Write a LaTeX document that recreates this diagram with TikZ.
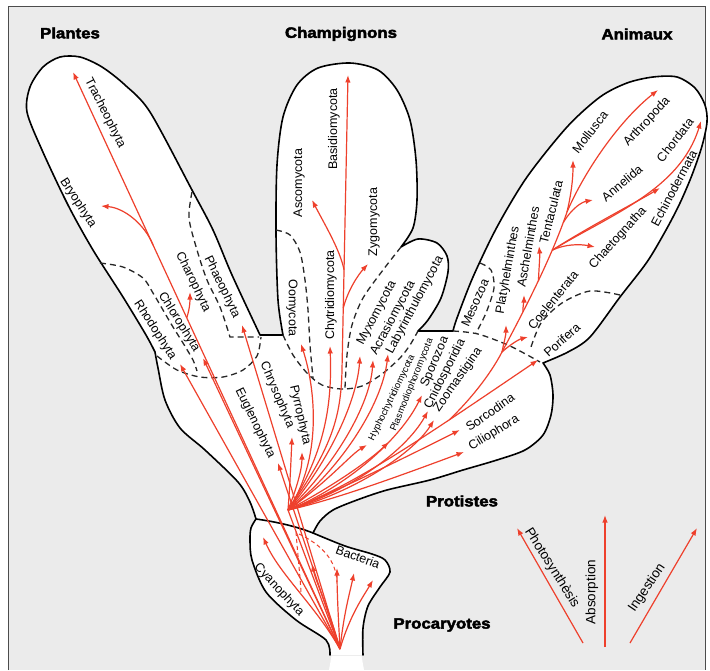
\documentclass[tikz,border=0pt]{standalone}
\usepackage{fontspec}
\setmainfont{Liberation Sans}
\newfontfamily\headfont[FakeStretch=1.12, BoldFeatures={FakeBold=3}]{Liberation Sans}
\usetikzlibrary{arrows.meta,calc}
\definecolor{treered}{RGB}{238,64,44}
\definecolor{paper}{RGB}{235,235,235}
\tikzset{
  lobe/.style={draw=black, line width=1.6pt, line join=round, line cap=round},
  divide/.style={draw=black!85, line width=1.3pt, dash pattern=on 6pt off 4pt},
  br/.style={-{Latex[length=7.5pt,width=5.5pt]}, draw=treered, line width=1.2pt},
  brline/.style={draw=treered, line width=1.2pt},
  brdash/.style={draw=treered, line width=1pt, dash pattern=on 4pt off 3pt},
}

\begin{document}
\begin{tikzpicture}[x=1pt, y=-1pt,
    lab/.style={font=\fontsize{12.5}{14}\selectfont, inner sep=0pt},
    labsm/.style={font=\fontsize{9.5}{11}\selectfont, inner sep=0pt},
    modelab/.style={font=\fontsize{13.5}{15}\selectfont, inner sep=0pt},
    kingdom/.style={font=\headfont\bfseries\fontsize{15}{17}\selectfont, inner sep=0pt}]
  \useasboundingbox (0,0) rectangle (710,670);
  \fill[paper] (8,6) rectangle (705,670);
  \draw[black!70, line width=1pt] (8,670) -- (8,6) -- (705,6) -- (705,670);

  % outline of the kingdoms
  \draw[lobe, fill=white]
    plot[smooth] coordinates {(330,655) (326,640) (296,620) (266,592) (252,560) (250,540) (251,528) (256,519)}
    -- plot[smooth] coordinates {(256,519) (250,502) (238,482) (205,450) (180,428) (165,400) (158,368) (155,352)}
    -- plot[smooth] coordinates {(155,352) (146,335) (123,297) (93,250) (68,205) (42,150) (27,112) (30,87)
         (43,67) (60,57) (80,57) (102,67) (125,85) (150,112) (192,190) (213,230) (232,275) (260,335)}
    -- (283,335)
    -- plot[smooth] coordinates {(283,335) (278,300) (276,233) (277,165) (283,117) (297,85) (318,68) (350,63)
         (378,70) (397,90) (410,120) (416,160) (417,200) (413,228) (401,247)}
    -- plot[smooth] coordinates {(401,247) (418,239) (437,243) (447,256) (448,272) (441,298) (428,320) (418,331)}
    -- (453,331)
    -- plot[smooth] coordinates {(453,331) (457,318) (473,277) (497,227) (527,177) (567,127) (600,97) (627,83)
         (653,77) (677,77) (695,88) (705,105) (707,122) (702,146) (692,175) (680,203) (666,230) (647,262)
         (620,297) (590,337) (568,352) (543,363)}
    -- plot[smooth] coordinates {(543,363) (550,375) (553,395) (551,415) (543,435) (525,450) (497,460) (463,470)
         (430,480) (387,490) (357,500) (333,510) (320,521) (313,533)}
    -- plot[smooth] coordinates {(313,533) (345,546) (372,554) (385,560) (390,572) (380,587) (368,606) (363,628) (363,655)};
  \fill[white] (331.5,656) -- (361.5,656) -- (364,670) -- (329,670) -- cycle;
  \draw[lobe] (256,519) .. controls (278,522) and (298,527) .. (313,533);

  % dashed boundaries
  \draw[divide] plot[smooth] coordinates {(100,263) (123,267) (143,278) (153,293) (163,310) (173,327) (183,343) (193,360) (197,371)};
  \draw[divide] plot[smooth] coordinates {(192,192) (189,218) (197,250) (207,280) (220,307) (230,337)} -- (259,337);
  \draw[divide] plot[smooth] coordinates {(157,356) (177,370) (200,377) (223,377) (243,370) (257,356) (261,337)};
  \draw[divide] plot[smooth] coordinates {(276,230) (290,235) (300,252) (305,280) (308,310) (310,345) (313,378)};
  \draw[divide] plot[smooth] coordinates {(283,335) (293,355) (307,373) (322,385) (342,389) (362,386) (382,374) (400,358) (410,345) (418,331)};
  \draw[divide] plot[smooth] coordinates {(401,247) (383,270) (363,298) (352,325) (347,355) (345,388)};
  \draw[divide] plot[smooth] coordinates {(453,331) (478,334) (510,346) (540,362)};
  \draw[divide] plot[smooth] coordinates {(480,263) (491,270) (494,288) (486,313) (476,333)};
  \draw[divide] plot[smooth] coordinates {(620,295) (590,291) (562,303) (541,323) (530,350)};

  % branch ends
  \coordinate (base) at (340,649);
  \coordinate (euk) at (288,510);
  \coordinate (trach) at (73,72);
  \coordinate (bryo) at (101,206);
  \coordinate (charo) at (190,292);
  \coordinate (rhodo) at (180,364);
  \coordinate (chloro) at (203,358);
  \coordinate (phaeo) at (242,325);
  \coordinate (eugl) at (278,463);
  \coordinate (chryso) at (292,437);
  \coordinate (pyrro) at (302,452);
  \coordinate (oomy) at (301,344);
  \coordinate (chytr) at (330,346);
  \coordinate (fk) at (342,370);
  \coordinate (basid) at (348,75);
  \coordinate (asco) at (312,200);
  \coordinate (zygo) at (368,264);
  \coordinate (myxo) at (360,356);
  \coordinate (acras) at (373,360);
  \coordinate (laby) at (388,354);
  \coordinate (hypho) at (367,445);
  \coordinate (plasm) at (389,442);
  \coordinate (sporo) at (422,395);
  \coordinate (cnido) at (428,411);
  \coordinate (zooma) at (434,420);
  \coordinate (sorco) at (460,430);
  \coordinate (cilio) at (464,452);
  \coordinate (pori) at (538,360);
  \coordinate (ak) at (502,352);
  \coordinate (am) at (567,212);
  \coordinate (platy) at (506,325);
  \coordinate (coele) at (528,337);
  \coordinate (asch) at (524,295);
  \coordinate (tenta) at (539,246);
  \coordinate (mollu) at (573,160);
  \coordinate (annel) at (593,200);
  \coordinate (arthro) at (658,90);
  \coordinate (chaet) at (595,247);
  \coordinate (echino) at (660,188);
  \coordinate (chord) at (701,121);
  \coordinate (cyano) at (263,537);
  \coordinate (bac1) at (312,564);
  \coordinate (bac2) at (337,568);
  \coordinate (bac3) at (354,573);
  \coordinate (bac4) at (373,580);
  \coordinate (pd1) at (296,532);
  \coordinate (pd2) at (301,592);
  \coordinate (pd3) at (299,534);
  \coordinate (pd4) at (337,582);

  % procaryotes
  \draw[br] (base) .. controls (315,605) and (280,575) .. (cyano);
  \draw[br] (base) .. controls (330,612) and (316,582) .. (bac1);
  \draw[br] (base) .. controls (338,612) and (337,590) .. (bac2);
  \draw[br] (base) .. controls (344,612) and (350,592) .. (bac3);
  \draw[br] (base) .. controls (350,615) and (363,597) .. (bac4);
  \draw[brdash] (pd1) .. controls (298,558) and (300,575) .. (pd2);
  \draw[brdash] (pd3) .. controls (322,545) and (336,560) .. (pd4);

  % plants
  \draw[br] (base) -- coordinate[pos=.574] (ck) coordinate[pos=.70] (bk) (trach);
  \draw[br] (bk) .. controls (145,225) and (125,208) .. (bryo);
  \draw[br] (ck) .. controls (190,308) and (190,300) .. (charo);
  \draw[br] (base) -- (rhodo);
  \draw[br] (base) -- (chloro);
  \draw[br] (base) -- (phaeo);
  \draw[br] (base) -- (eugl);
  \draw[brline] (base) -- (euk);

  % protists and fungi
  \draw[br] (euk) .. controls (290,485) and (291,460) .. (chryso);
  \draw[br] (euk) .. controls (296,490) and (302,470) .. (pyrro);
  \draw[br] (euk) .. controls (322,460) and (316,390) .. (oomy);
  \draw[br] (euk) .. controls (327,450) and (332,400) .. (chytr);
  \draw[br] (euk) .. controls (330,450) and (341,420) .. (fk) -- coordinate[pos=.21] (fk1) coordinate[pos=.34] (fk2) (basid);
  \draw[br] (fk2) .. controls (340,250) and (325,225) .. (asco);
  \draw[br] (fk1) .. controls (348,290) and (358,275) .. (zygo);
  \draw[br] (euk) .. controls (330,460) and (357,400) .. (myxo);
  \draw[br] (euk) .. controls (335,465) and (370,405) .. (acras);
  \draw[br] (euk) .. controls (340,470) and (382,405) .. (laby);
  \draw[br] (euk) .. controls (330,480) and (350,455) .. (hypho);
  \draw[br] (euk) .. controls (335,485) and (370,460) .. (plasm);
  \draw[br] (euk) .. controls (345,488) and (400,440) .. (sporo);
  \draw[br] (euk) .. controls (348,492) and (405,452) .. (cnido);
  \draw[br] (euk) .. controls (350,494) and (412,455) .. (zooma);
  \draw[br] (euk) .. controls (330,495) and (410,455) .. (sorco);
  \draw[br] (euk) .. controls (335,500) and (410,472) .. (cilio);

  % animals
  \draw[br] (euk) .. controls (350,488) and (420,440) .. coordinate[pos=.72] (pk) (pori);
  \draw[br] (pk) .. controls (470,400) and (490,375) .. (ak)
    .. controls (520,318) and (550,262) .. coordinate[pos=.33] (ak1) coordinate[pos=.55] (ak2)
       coordinate[pos=.75] (ak3) coordinate[pos=.93] (ak4) (am)
    .. controls (585,170) and (620,120) .. (arthro);
  \draw[br] (ak) .. controls (504,342) and (506,335) .. (platy);
  \draw[br] (ak) .. controls (512,343) and (520,339) .. (coele);
  \draw[br] (ak1) .. controls (523,305) and (524,300) .. (asch);
  \draw[br] (ak2) .. controls (539,268) and (540,256) .. (tenta);
  \draw[br] (ak3) .. controls (565,244) and (580,244) .. (chaet);
  \draw[br] (ak3) .. controls (590,226) and (635,203) .. (echino);
  \draw[br] (ak3) .. controls (610,215) and (680,190) .. (chord);
  \draw[br] (am) .. controls (571,195) and (573,180) .. (mollu);
  \draw[br] (ak4) .. controls (572,208) and (582,202) .. (annel);

  % names
  \node[lab, rotate=-63] (nTrach) at (105,113) {Tracheophyta};
  \node[lab, rotate=-57] (nBryo) at (78,203) {Bryophyta};
  \node[lab, rotate=-64] (nCharo) at (193,282) {Charophyta};
  \node[lab, rotate=-64] (nPhaeo) at (222,287) {Phaeophyta};
  \node[lab, rotate=-58] (nChloro) at (179,322) {Chlorophyta};
  \node[lab, rotate=-57] (nRhodo) at (155,330) {Rhodophyta};
  \node[lab, rotate=-64] (nEugl) at (255,423) {Euglenophyta};
  \node[lab, rotate=-67] (nChryso) at (277,395) {Chrysophyta};
  \node[lab, rotate=-77] (nPyrro) at (300,415) {Pyrrophyta};
  \node[lab, rotate=-90] (nOomy) at (292,308) {Oomycota};
  \node[lab, rotate=90] (nChytr) at (331,295) {Chytridiomycota};
  \node[lab, rotate=90] (nAsco) at (299,183) {Ascomycota};
  \node[lab, rotate=90] (nBasid) at (334,129) {Basidiomycota};
  \node[lab, rotate=90] (nZygo) at (374,222) {Zygomycota};
  \node[lab, rotate=62] (nMyxo) at (377,313) {Myxomycota};
  \node[lab, rotate=62] (nAcras) at (393,318) {Acrasiomycota};
  \node[lab, rotate=62] (nLaby) at (415,305) {Labyrinthulomycota};
  \node[labsm, rotate=64] (nHypho) at (392,398) {Hyphochytridiomycota};
  \node[labsm, rotate=68] (nPlasm) at (412,385) {Plasmodiophoromycota};
  \node[lab, rotate=67] (nSporo) at (435,362) {Sporozoa};
  \node[lab, rotate=63] (nCnido) at (445,374) {Cnidosporidia};
  \node[lab, rotate=55] (nZooma) at (458,380) {Zoomastigina};
  \node[lab, rotate=35] (nSorco) at (490,412) {Sorcodina};
  \node[lab, rotate=31] (nCilio) at (494,433) {Ciliophora};
  \node[lab, rotate=66] (nMeso) at (475,303) {Mesozoa};
  \node[lab, rotate=80] (nPlaty) at (508,270) {Platyhelminthes};
  \node[lab, rotate=80] (nAsch) at (528,247) {Aschelminthes};
  \node[lab, rotate=76] (nTenta) at (551,212) {Tentaculata};
  \node[lab, rotate=51] (nCoele) at (553,300) {Coelenterata};
  \node[lab, rotate=42] (nPori) at (562,340) {Porifera};
  \node[lab, rotate=52] (nMollu) at (590,132) {Mollusca};
  \node[lab, rotate=47] (nArthro) at (647,122) {Arthropoda};
  \node[lab, rotate=40] (nAnnel) at (622,183) {Annelida};
  \node[lab, rotate=52] (nChord) at (675,140) {Chordata};
  \node[lab, rotate=48] (nChaet) at (618,238) {Chaetognatha};
  \node[lab, rotate=62] (nEchino) at (674,188) {Echinodermata};
  \node[lab, rotate=-20] (nBact) at (358,557) {Bacteria};
  \node[lab, rotate=-47] (nCyano) at (279,590) {Cyanophyta};

  \node[kingdom] (kPlant) at (70,33) {Plantes};
  \node[kingdom] (kFungi) at (341,34) {Champignons};
  \node[kingdom] (kAnim) at (637,34) {Animaux};
  \node[kingdom] (kProt) at (462,501) {Protistes};
  \node[kingdom] (kProc) at (442,625) {Procaryotes};

  % modes of nutrition
  \coordinate (ph0) at (583,643);
  \coordinate (ph1) at (517,528);
  \coordinate (ab0) at (605,647);
  \coordinate (ab1) at (605,515);
  \coordinate (in0) at (630,643);
  \coordinate (in1) at (697,528);
  \draw[br] (ph0) -- (ph1);
  \draw[br] (ab0) -- (ab1);
  \draw[br] (in0) -- (in1);
  \node[modelab, rotate=-58] (nPhoto) at (552,568) {Photosynthèsis};
  \node[modelab, rotate=90] (nAbs) at (592,592) {Absorption};
  \node[modelab, rotate=56] (nIng) at (647,588) {Ingestion};
\end{tikzpicture}
\end{document}
